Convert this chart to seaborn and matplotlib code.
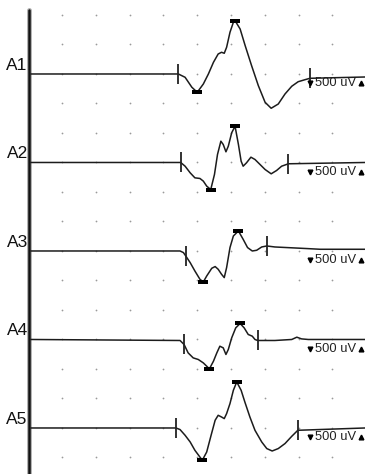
import numpy as np
import pandas as pd
import matplotlib
matplotlib.use("Agg")
import matplotlib.pyplot as plt
import seaborn as sns

# =====================================
# DATA  (time in divisions, amplitude in uV, 500 uV per division)
# =====================================

labels = ["A1", "A2", "A3", "A4", "A5"]
sensitivity = "500 uV"
uv_per_div = 500

t1 = [0.07, 4.44, 4.64, 4.84, 5.00, 5.18, 5.33, 5.48, 5.62, 5.72, 5.80, 5.87, 5.97,
      6.07, 6.12, 6.27, 6.42, 6.61, 6.81, 7.01, 7.19, 7.40, 7.60, 7.80, 7.99, 8.19,
      8.34, 9.97]
a1 = [0, 0, -56, -225, -310, -170, 0, 198, 339, 368, 351, 453, 707,
      876, 903, 763, 480, 141, -198, -480, -581, -509, -339, -208, -131, -97,
      -73, -51]

t2 = [0.07, 4.51, 4.64, 4.79, 4.93, 5.08, 5.18, 5.28, 5.40, 5.51, 5.60, 5.70, 5.77,
      5.85, 5.92, 6.02, 6.12, 6.22, 6.30, 6.36, 6.46, 6.59, 6.71, 6.86, 7.01, 7.19,
      7.35, 7.50, 7.70, 9.97]
a2 = [0, 0, -63, -175, -260, -271, -316, -401, -458, -203, 136, 361, 305,
      181, 276, 503, 615, 305, 22, -63, -5, 90, 51, -34, -119, -192,
      -136, -63, -22, 0]

t3 = [0.07, 4.49, 4.59, 4.66, 4.79, 4.93, 5.08, 5.18, 5.28, 5.43, 5.53, 5.62, 5.72,
      5.80, 5.87, 5.97, 6.07, 6.22, 6.36, 6.49, 6.63, 6.76, 6.91, 7.06, 7.30, 8.25,
      8.64, 9.97]
a3 = [0, 0, -27, -85, -197, -339, -480, -525, -424, -293, -264, -310, -395,
      -451, -281, 58, 254, 339, 198, 58, 0, 12, 68, 85, 68, 41,
      29, 29]

t4 = [0.07, 4.49, 4.61, 4.73, 4.88, 5.03, 5.18, 5.36, 5.48, 5.58, 5.67, 5.77, 5.85,
      5.92, 6.02, 6.14, 6.27, 6.39, 6.51, 6.63, 6.71, 6.79, 7.30, 7.80, 7.95, 8.09,
      8.29, 9.97]
a4 = [0, -17, -85, -227, -312, -339, -397, -498, -368, -227, -114, -142, -254,
      -170, 27, 197, 271, 197, 85, 56, 0, -17, -17, 0, 39, 10,
      0, 0]

t5 = [0.07, 4.37, 4.49, 4.64, 4.79, 4.93, 5.15, 5.28, 5.41, 5.53, 5.62, 5.72, 5.80,
      5.87, 5.97, 6.07, 6.17, 6.30, 6.41, 6.56, 6.71, 6.91, 7.06, 7.22, 7.40, 7.60,
      7.80, 7.98, 9.97]
a5 = [0, 0, -27, -124, -237, -378, -547, -407, -124, 131, 215, 186, 159,
      244, 414, 639, 780, 639, 441, 186, -39, -237, -349, -390, -349, -264,
      -141, -39, 0]

# latency cursors (onset / end) and amplitude markers (negative / positive peak)
onset_t = [4.44, 4.51, 4.66, 4.61, 4.37]
end_t = [8.34, 7.70, 7.06, 6.79, 7.98]
neg_peak_t = [5.00, 5.40, 5.18, 5.36, 5.15]
pos_peak_t = [6.12, 6.12, 6.22, 6.27, 6.17]

times = [t1, t2, t3, t4, t5]
amps = [a1, a2, a3, a4, a5]
offsets = [-2, -5, -8, -11, -14]

# =====================================
# PLOT
# =====================================

sns.set_style("white")
plt.rcParams["font.family"] = ["Liberation Sans", "DejaVu Sans"]

fig = plt.figure(figsize=(3.65, 4.74), dpi=100)
ax = fig.add_axes([0, 0, 1, 1])
ax.set_xlim(-0.844, 9.97)
ax.set_ylim(-15.56, 0.508)
ax.axis("off")

# dotted grid
gx, gy = np.meshgrid(np.arange(1, 10), np.arange(0, -16, -1))
ax.scatter(gx.ravel(), gy.ravel(), s=1.6, color="#9a9a9a", linewidths=0, zorder=1)

# left axis bar
ax.plot([0.02, 0.02], [0.17, -15.6], color="#b4b4b4", lw=3.6, zorder=2)
ax.plot([0.02, 0.02], [0.17, -15.6], color="#111111", lw=1.8, zorder=3)

rect = [(-1, -0.55), (1, -0.55), (1, 0.55), (-1, 0.55), (-1, -0.55)]

for i in range(len(labels)):
    df = pd.DataFrame({"t": times[i], "y": np.array(amps[i]) / uv_per_div + offsets[i]})
    sns.lineplot(data=df, x="t", y="y", sort=False, estimator=None,
                 color="#1c1c1c", lw=1.1, ax=ax, zorder=4)

    # cursors
    cur_t = [onset_t[i], end_t[i]]
    cur_y = np.interp(cur_t, df["t"], df["y"])
    ax.plot(cur_t, cur_y, ls="none", marker="|", markersize=15,
            markeredgewidth=1.3, color="#222222", zorder=5)

    # peak markers
    pk_t = [neg_peak_t[i], pos_peak_t[i]]
    pk_y = np.interp(pk_t, df["t"], df["y"])
    ax.plot(pk_t, pk_y, ls="none", marker=rect, markersize=6.5,
            color="black", markeredgewidth=0, zorder=6)

    # channel label
    ax.text(-0.02, offsets[i] + 0.04, labels[i], ha="right", va="bottom",
            fontsize=12.5, color="#111111")

    # sensitivity label
    ly = offsets[i] - 0.32
    ax.plot([8.34], [ly], ls="none", marker="v", markersize=3.4, color="black", zorder=6)
    ax.text(8.5, ly, sensitivity, ha="left", va="center", fontsize=9.3, color="#222222")
    ax.plot([9.85], [ly], ls="none", marker="^", markersize=3.4, color="black", zorder=6)

plt.savefig("out.png", dpi=100)
